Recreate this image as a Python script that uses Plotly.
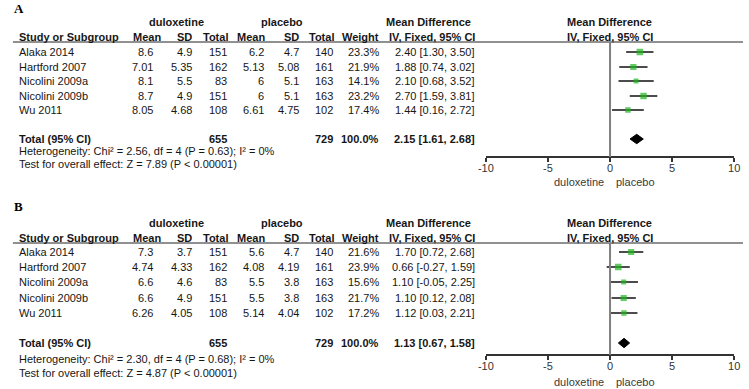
import plotly.graph_objects as go

W, H = 749, 389
SANS = "Arial, Liberation Sans, sans-serif"
SERIF = "Times New Roman, Liberation Serif, serif"

# ---------------- data ----------------
studies = ["Alaka 2014", "Hartford 2007", "Nicolini 2009a", "Nicolini 2009b", "Wu 2011"]

# Panel A
dul_mean_a = [8.6, 7.01, 8.1, 8.7, 8.05]
dul_sd_a = [4.9, 5.35, 5.5, 4.9, 4.68]
dul_n_a = [151, 162, 83, 151, 108]
pla_mean_a = [6.2, 5.13, 6, 6, 6.61]
pla_sd_a = [4.7, 5.08, 5.1, 5.1, 4.75]
pla_n_a = [140, 161, 163, 163, 102]
weight_a = [23.3, 21.9, 14.1, 23.2, 17.4]
md_a = [2.40, 1.88, 2.10, 2.70, 1.44]
lo_a = [1.30, 0.74, 0.68, 1.59, 0.16]
hi_a = [3.50, 3.02, 3.52, 3.81, 2.72]
total_a = dict(n_dul=655, n_pla=729, weight=100.0, md=2.15, lo=1.61, hi=2.68)
het_a = "Heterogeneity: Chi² = 2.56, df = 4 (P = 0.63); I² = 0%"
test_a = "Test for overall effect: Z = 7.89 (P < 0.00001)"

# Panel B
dul_mean_b = [7.3, 4.74, 6.6, 6.6, 6.26]
dul_sd_b = [3.7, 4.33, 4.6, 4.9, 4.05]
dul_n_b = [151, 162, 83, 151, 108]
pla_mean_b = [5.6, 4.08, 5.5, 5.5, 5.14]
pla_sd_b = [4.7, 4.19, 3.8, 3.8, 4.04]
pla_n_b = [140, 161, 163, 163, 102]
weight_b = [21.6, 23.9, 15.6, 21.7, 17.2]
md_b = [1.70, 0.66, 1.10, 1.10, 1.12]
lo_b = [0.72, -0.27, -0.05, 0.12, 0.03]
hi_b = [2.68, 1.59, 2.25, 2.08, 2.21]
total_b = dict(n_dul=655, n_pla=729, weight=100.0, md=1.13, lo=0.67, hi=1.58)
het_b = "Heterogeneity: Chi² = 2.30, df = 4 (P = 0.68); I² = 0%"
test_b = "Test for overall effect: Z = 4.87 (P < 0.00001)"

tick_vals = [-10, -5, 0, 5, 10]
tick_text = ["-10", "-5", "0", "5", "10"]
group_labels = ["duloxetine", "placebo"]
favours_labels = ["duloxetine", "placebo"]

# ---------------- layout constants (pixels) ----------------
X_LEFT, X_RIGHT = 487, 740          # forest axis extent
DOMAIN = [X_LEFT / W, X_RIGHT / W]
COLS = [  # header, header right x, data right x
    ("Mean", 157, 149), ("SD", 189, 189), ("Total", 225, 224),
    ("Mean", 263, 262), ("SD", 298, 298), ("Total", 333, 332),
    ("Weight", 379, 379),
]
MD_RIGHT = 477

PANELS = [
    dict(label="A", label_y=8, h1_y=22, h2_y=37, line_y=42,
         rows=[52, 67, 81, 96, 110], total_y=139, het_y=151, test_y=164,
         axis_y=157, fav_y=182, xaxis="x"),
    dict(label="B", label_y=206, h1_y=223, h2_y=238, line_y=243,
         rows=[252, 267, 282, 298, 313], total_y=343, het_y=359, test_y=373,
         axis_y=355, fav_y=382, xaxis="x2"),
]
DATA = [
    dict(dm=dul_mean_a, ds=dul_sd_a, dn=dul_n_a, pm=pla_mean_a, ps=pla_sd_a, pn=pla_n_a,
         w=weight_a, md=md_a, lo=lo_a, hi=hi_a, tot=total_a, het=het_a, test=test_a),
    dict(dm=dul_mean_b, ds=dul_sd_b, dn=dul_n_b, pm=pla_mean_b, ps=pla_sd_b, pn=pla_n_b,
         w=weight_b, md=md_b, lo=lo_b, hi=hi_b, tot=total_b, het=het_b, test=test_b),
]

TXT = "#161616"
GREEN = "#1fb51f"

fig = go.Figure()
annotations = []
shapes = []


def txt(x, y, s, anchor="left", bold=False, size=11, color=TXT, family=SANS):
    annotations.append(dict(
        x=x / W, y=y, xref="paper", yref="y", text=f"<b>{s}</b>" if bold else s,
        showarrow=False, xanchor=anchor, yanchor="middle", borderpad=0,
        font=dict(family=family, size=size, color=color)))


def g(v):
    return f"{v:g}"


for P, D in zip(PANELS, DATA):
    txt(5, P["label_y"], P["label"], bold=True, size=13, family=SERIF, color="#000")
    txt(172, P["h1_y"], group_labels[0], anchor="center", bold=True)
    txt(279, P["h1_y"], group_labels[1], anchor="center", bold=True)
    txt(428, P["h1_y"], "Mean Difference", anchor="center", bold=True)
    txt(613, P["h1_y"], "Mean Difference", anchor="center", bold=True)
    txt(10, P["h2_y"], "Study or Subgroup", bold=True)
    for name, hx, _ in COLS:
        txt(hx, P["h2_y"], name, anchor="right", bold=True)
    txt(MD_RIGHT, P["h2_y"], "IV, Fixed, 95% CI", anchor="right", bold=True)
    txt(613, P["h2_y"], "IV, Fixed, 95% CI", anchor="center", bold=True)
    shapes.append(dict(type="line", xref="paper", yref="y", x0=5 / W, x1=1,
                       y0=P["line_y"], y1=P["line_y"], line=dict(color="#222", width=1)))

    cols_vals = [D["dm"], D["ds"], D["dn"], D["pm"], D["ps"], D["pn"]]
    for i, y in enumerate(P["rows"]):
        txt(10, y, studies[i])
        for (name, hx, dx), vals in zip(COLS[:6], cols_vals):
            txt(dx, y, g(vals[i]), anchor="right")
        txt(COLS[6][2], y, f"{D['w'][i]:.1f}%", anchor="right")
        txt(MD_RIGHT, y, f"{D['md'][i]:.2f} [{D['lo'][i]:.2f}, {D['hi'][i]:.2f}]", anchor="right")

    T = D["tot"]
    txt(10, P["total_y"], "Total (95% CI)", bold=True)
    txt(COLS[2][2], P["total_y"], str(T["n_dul"]), anchor="right", bold=True)
    txt(COLS[5][2], P["total_y"], str(T["n_pla"]), anchor="right", bold=True)
    txt(COLS[6][2], P["total_y"], f"{T['weight']:.1f}%", anchor="right", bold=True)
    txt(MD_RIGHT, P["total_y"], f"{T['md']:.2f} [{T['lo']:.2f}, {T['hi']:.2f}]", anchor="right", bold=True)
    txt(10, P["het_y"], D["het"])
    txt(10, P["test_y"], D["test"])
    txt(582, P["fav_y"], favours_labels[0], anchor="center", color="#3a3a3a")
    txt(639, P["fav_y"], favours_labels[1], anchor="center", color="#3a3a3a")

    xa = P["xaxis"]
    # zero line
    shapes.append(dict(type="line", xref=xa, yref="y", x0=0, x1=0,
                       y0=P["line_y"], y1=P["axis_y"], line=dict(color="#808080", width=2)))
    # study estimates
    fig.add_trace(go.Scatter(
        x=D["md"], y=P["rows"], xaxis=xa, yaxis="y", mode="markers",
        marker=dict(symbol="square", color=GREEN, size=[2.3 + 0.18 * w for w in D["w"]],
                    line=dict(width=0)),
        error_x=dict(type="data", symmetric=False,
                     array=[h - m for h, m in zip(D["hi"], D["md"])],
                     arrayminus=[m - l for m, l in zip(D["md"], D["lo"])],
                     color="#111", thickness=1.4, width=0),
        hoverinfo="skip"))
    # pooled diamond
    yt = P["total_y"]
    hh = 4.7
    fig.add_trace(go.Scatter(
        x=[T["lo"], T["md"], T["hi"], T["md"], T["lo"]],
        y=[yt, yt - hh, yt, yt + hh, yt], xaxis=xa, yaxis="y",
        mode="lines", fill="toself", fillcolor="#000", line=dict(color="#000", width=1),
        hoverinfo="skip"))

axis_common = dict(domain=DOMAIN, range=[-10, 10], anchor="free", showgrid=False,
                   zeroline=False, showline=True, linecolor="#333", linewidth=1.5,
                   ticks="outside", ticklen=4, tickwidth=1.5, tickcolor="#333",
                   ticklabelstandoff=-3,
                   tickvals=tick_vals, ticktext=tick_text,
                   tickfont=dict(family=SANS, size=11, color="#333"), fixedrange=True)

fig.update_layout(
    width=W, height=H, margin=dict(l=0, r=0, t=0, b=0),
    paper_bgcolor="white", plot_bgcolor="rgba(0,0,0,0)", showlegend=False,
    xaxis=dict(**axis_common, position=1 - PANELS[0]["axis_y"] / H),
    xaxis2=dict(**axis_common, position=1 - PANELS[1]["axis_y"] / H),
    yaxis=dict(domain=[0, 1], range=[H, 0], visible=False, fixedrange=True),
    annotations=annotations, shapes=shapes,
)

fig.write_html("out.html", config={"displayModeBar": False},
               post_script="document.body.style.margin='0px';")
